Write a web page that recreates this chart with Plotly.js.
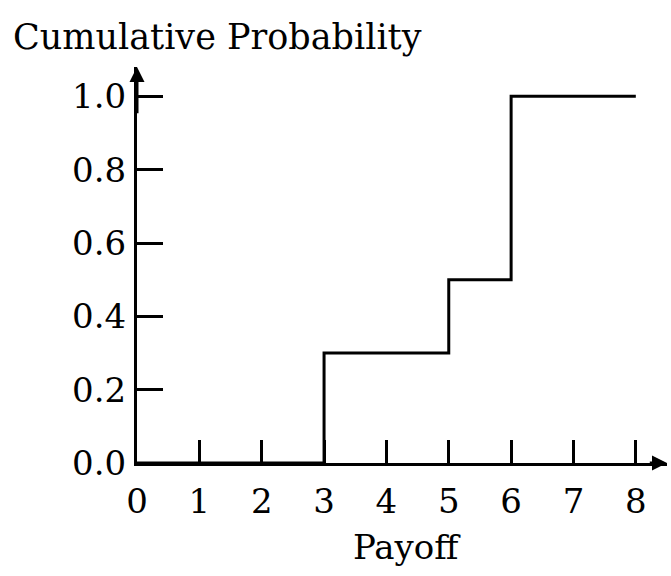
<!DOCTYPE html>
<html>
<head>
<meta charset="utf-8">
<script src="https://cdn.plot.ly/plotly-3.0.1.min.js"></script>
<style>html,body{margin:0;padding:0;background:#fff;}#chart{width:671px;height:576px;}</style>
</head>
<body>
<div id="chart"></div>
<script>
var payoff = [0, 3, 5, 6, 8];
var cumProb = [0, 0.3, 0.5, 1.0, 1.0];
var xTicks = [0, 1, 2, 3, 4, 5, 6, 7, 8];
var yTicks = [0.0, 0.2, 0.4, 0.6, 0.8, 1.0];
var yTickText = ['0.0', '0.2', '0.4', '0.6', '0.8', '1.0'];

var FONT = 'DejaVu Serif, Liberation Serif, serif';
var INK = '#000';
var FS = 34;

var trace = {
  x: payoff, y: cumProb, type: 'scatter', mode: 'lines',
  line: {shape: 'hv', color: INK, width: 3},
  hoverinfo: 'skip', cliponaxis: false
};

var layout = {
  width: 671, height: 576,
  margin: {l: 137, r: 4, t: 67, b: 113},
  paper_bgcolor: '#fff', plot_bgcolor: '#fff',
  showlegend: false,
  font: {family: FONT, color: INK, size: FS},
  xaxis: {
    range: [0, 8.5], tickmode: 'array', tickvals: xTicks, ticktext: xTicks.map(String),
    ticks: 'inside', ticklen: 23, tickwidth: 3, tickcolor: INK,
    showline: true, linecolor: INK, linewidth: 3, showgrid: false, zeroline: false,
    tickfont: {family: FONT, size: FS, color: INK}, ticklabelstandoff: 6
  },
  yaxis: {
    range: [0, 1.08], tickmode: 'array', tickvals: yTicks, ticktext: yTickText,
    ticks: 'inside', ticklen: 26, tickwidth: 3, tickcolor: INK,
    showline: true, linecolor: INK, linewidth: 3, showgrid: false, zeroline: false,
    tickfont: {family: FONT, size: FS, color: INK}, ticklabelstandoff: 1
  },
  annotations: [
    {x: 8.5, y: 0, ax: 8.2, ay: 0, xref: 'x', yref: 'y', axref: 'x', ayref: 'y',
     text: '', showarrow: true, arrowhead: 2, arrowsize: 1, arrowwidth: 3, arrowcolor: INK},
    {x: 0, y: 1.08, ax: 0, ay: 0.95, xref: 'x', yref: 'y', axref: 'x', ayref: 'y',
     text: '', showarrow: true, arrowhead: 2, arrowsize: 1, arrowwidth: 3, arrowcolor: INK},
    {x: -0.237, y: 1.076, xref: 'paper', yref: 'paper', xanchor: 'left', yanchor: 'middle',
     text: 'Cumulative Probability', showarrow: false, font: {family: FONT, size: 35, color: INK}},
    {x: 4.33, y: -0.212, xref: 'x', yref: 'paper', xanchor: 'center', yanchor: 'middle',
     text: 'Payoff', showarrow: false, font: {family: FONT, size: FS, color: INK}}
  ]
};

Plotly.newPlot('chart', [trace], layout, {staticPlot: true, displayModeBar: false});
</script>
</body>
</html>
